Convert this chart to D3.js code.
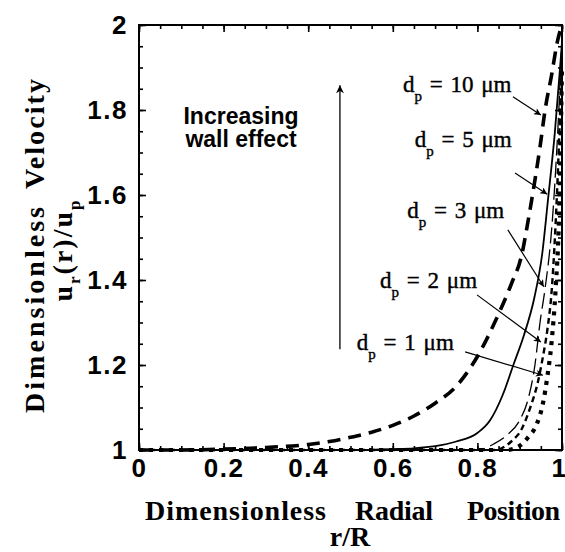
<!DOCTYPE html>
<html>
<head>
<meta charset="utf-8">
<script src="https://cdn.jsdelivr.net/npm/d3@7"></script>
<style>
  body { margin: 0; background: #fff; }
  svg { display: block; }
</style>
</head>
<body>
<div id="chart"></div>
<script>
// tick values / labels
const xTicks = [0, 0.2, 0.4, 0.6, 0.8, 1];
const yTicks = [1, 1.2, 1.4, 1.6, 1.8, 2];
const xTickLabels = ["0", "0.2", "0.4", "0.6", "0.8", "1"];
const yTickLabels = ["1", "1.2", "1.4", "1.6", "1.8", "2"];

// curves: r/R and u_r(r)/u_p
const r10 = [0, 0.1, 0.2, 0.3, 0.4, 0.45, 0.5, 0.55, 0.6, 0.65, 0.7, 0.75, 0.8, 0.85, 0.88, 0.905, 0.92, 0.936, 0.948, 0.96, 0.975, 0.99, 1];
const u10 = [1, 1, 1.002, 1.006, 1.013, 1.02, 1.03, 1.042, 1.058, 1.08, 1.11, 1.15, 1.22, 1.32, 1.39, 1.46, 1.54, 1.635, 1.713, 1.8, 1.88, 1.965, 2];

const r5 = [0, 0.5, 0.6, 0.65, 0.7, 0.75, 0.8, 0.83, 0.86, 0.885, 0.91, 0.935, 0.953, 0.967, 0.983, 0.995, 1];
const u5 = [1, 1, 1.002, 1.004, 1.009, 1.02, 1.04, 1.07, 1.13, 1.2, 1.27, 1.36, 1.46, 1.59, 1.746, 1.894, 1.96];

const r3 = [0, 0.8, 0.84, 0.87, 0.9, 0.92, 0.936, 0.948, 0.96, 0.976, 0.99, 1];
const u3 = [1, 1, 1.015, 1.035, 1.07, 1.12, 1.2, 1.3, 1.38, 1.525, 1.75, 1.97];

const r2 = [0, 0.84, 0.88, 0.905, 0.925, 0.943, 0.955, 0.965, 0.976, 0.988, 1];
const u2 = [1, 1, 1.02, 1.05, 1.1, 1.16, 1.22, 1.28, 1.38, 1.6, 1.93];

const r1 = [0, 0.87, 0.9, 0.92, 0.94, 0.955, 0.965, 0.975, 0.985, 0.993, 1];
const u1 = [1, 1, 1.01, 1.03, 1.06, 1.11, 1.17, 1.25, 1.38, 1.55, 1.9];

// annotations (data units)
const sizeLabels = ["10", "5", "3", "2", "1"];
const labelR = [0.624, 0.652, 0.634, 0.570, 0.515];
const labelU = [1.842, 1.713, 1.546, 1.381, 1.235];
const arrowFromR = [0.884, 0.889, 0.872, 0.799, 0.771];
const arrowFromU = [1.831, 1.652, 1.518, 1.365, 1.231];
const arrowToR = [0.950, 0.965, 0.957, 0.950, 0.955];
const arrowToU = [1.788, 1.602, 1.384, 1.254, 1.176];
const wallArrowR = 0.475;
const wallArrowU = [1.237, 1.858];

const W = 565, H = 552;
const margin = { top: 25, right: 3, bottom: 102, left: 139 };
const width = W - margin.left - margin.right,
      height = H - margin.top - margin.bottom;

const svg = d3.select("#chart").append("svg")
  .attr("width", W).attr("height", H);

const g = svg.append("g")
  .attr("transform", `translate(${margin.left},${margin.top})`);

const x = d3.scaleLinear().domain([0, 1]).range([0, width]);
const y = d3.scaleLinear().domain([1, 2]).range([height, 0]);

const minorX = d3.range(0, 1.0001, 0.05);
const minorY = d3.range(1, 2.0001, 0.05);

const tickFont = "'Liberation Sans', Arial, Helvetica, sans-serif";
const serif = "'Liberation Serif', 'Times New Roman', Times, serif";

function styleAxis(sel) {
  sel.select(".domain").remove();
  sel.selectAll(".tick line").attr("stroke", "#000").attr("stroke-width", 1.6);
}

// minor ticks, all four sides, pointing in
g.append("g").attr("transform", `translate(0,${height})`)
  .call(d3.axisBottom(x).tickValues(minorX).tickSize(-4).tickFormat("")).call(styleAxis);
g.append("g")
  .call(d3.axisTop(x).tickValues(minorX).tickSize(-4).tickFormat("")).call(styleAxis);
g.append("g")
  .call(d3.axisLeft(y).tickValues(minorY).tickSize(-4).tickFormat("")).call(styleAxis);
g.append("g").attr("transform", `translate(${width},0)`)
  .call(d3.axisRight(y).tickValues(minorY).tickSize(-4).tickFormat("")).call(styleAxis);

// major ticks with labels
const xAxis = g.append("g").attr("transform", `translate(0,${height})`)
  .call(d3.axisBottom(x).tickValues(xTicks).tickSize(-7).tickPadding(9)
    .tickFormat((d, i) => xTickLabels[i]))
  .call(styleAxis);
const yAxis = g.append("g")
  .call(d3.axisLeft(y).tickValues(yTicks).tickSize(-7).tickPadding(11)
    .tickFormat((d, i) => yTickLabels[i]))
  .call(styleAxis);
g.append("g")
  .call(d3.axisTop(x).tickValues(xTicks).tickSize(-7).tickFormat("")).call(styleAxis);
g.append("g").attr("transform", `translate(${width},0)`)
  .call(d3.axisRight(y).tickValues(yTicks).tickSize(-7).tickFormat("")).call(styleAxis);

[xAxis, yAxis].forEach(a => a.selectAll("text")
  .attr("fill", "#000")
  .style("font-family", tickFont)
  .style("font-weight", "bold")
  .style("font-size", "26px")
  .style("letter-spacing", "1.5px"));
// last x label sits on the page edge
xAxis.selectAll(".tick text").filter(d => d === 1).attr("dx", -3);

// curves
const curveR = [r10, r5, r3, r2, r1];
const curveU = [u10, u5, u3, u2, u1];
const curveStyle = [
  { w: 3.6, dash: "13,8" },
  { w: 1.8, dash: null },
  { w: 1.3, dash: "16,6" },
  { w: 2.4, dash: "6,4" },
  { w: 4.2, dash: "4,6" }
];

const line = d3.line()
  .x(d => x(d[0]))
  .y(d => y(d[1]))
  .curve(d3.curveMonotoneX);

curveR.forEach((rs, k) => {
  const pts = rs.map((r, i) => [r, curveU[k][i]]);
  g.append("path")
    .datum(pts)
    .attr("d", line)
    .attr("fill", "none")
    .attr("stroke", "#000")
    .attr("stroke-width", curveStyle[k].w)
    .attr("stroke-dasharray", curveStyle[k].dash);
});

// frame
g.append("rect")
  .attr("width", width).attr("height", height)
  .attr("fill", "none").attr("stroke", "#000").attr("stroke-width", 2);

// arrow heads
const defs = svg.append("defs");
defs.append("marker")
  .attr("id", "head").attr("viewBox", "0 0 10 10")
  .attr("refX", 10).attr("refY", 5)
  .attr("markerWidth", 11).attr("markerHeight", 7)
  .attr("markerUnits", "userSpaceOnUse")
  .attr("orient", "auto")
  .append("path").attr("d", "M0,0 L10,5 L0,10 L2.5,5 Z").attr("fill", "#000");
defs.append("marker")
  .attr("id", "bighead").attr("viewBox", "0 0 10 10")
  .attr("refX", 10).attr("refY", 5)
  .attr("markerWidth", 13).attr("markerHeight", 8)
  .attr("markerUnits", "userSpaceOnUse")
  .attr("orient", "auto")
  .append("path").attr("d", "M0,0 L10,5 L0,10 L3,5 Z").attr("fill", "#000");

// particle size labels + arrows
sizeLabels.forEach((s, i) => {
  const t = g.append("text")
    .attr("x", x(labelR[i]))
    .attr("y", y(labelU[i]))
    .style("font-family", serif)
    .style("font-size", "23px")
    .style("word-spacing", "2px")
    .attr("fill", "#000")
    .attr("stroke", "#000")
    .attr("stroke-width", 0.4);
  t.append("tspan").text("d");
  t.append("tspan").attr("dy", 9).style("font-size", "15px").text("p");
  t.append("tspan").attr("dy", -9).text(` = ${s} \u03bcm`);

  g.append("line")
    .attr("x1", x(arrowFromR[i])).attr("y1", y(arrowFromU[i]))
    .attr("x2", x(arrowToR[i])).attr("y2", y(arrowToU[i]))
    .attr("stroke", "#000").attr("stroke-width", 1.2)
    .attr("marker-end", "url(#head)");
});

// increasing wall effect
g.append("line")
  .attr("x1", x(wallArrowR)).attr("y1", y(wallArrowU[0]))
  .attr("x2", x(wallArrowR)).attr("y2", y(wallArrowU[1]))
  .attr("stroke", "#000").attr("stroke-width", 1.3)
  .attr("marker-end", "url(#bighead)");

const inc = g.append("text")
  .attr("text-anchor", "middle")
  .style("font-family", tickFont)
  .style("font-weight", "bold")
  .style("font-size", "23px")
  .attr("fill", "#000");
inc.append("tspan").attr("x", 102).attr("y", 99).text("Increasing");
inc.append("tspan").attr("x", 102).attr("y", 122).text("wall effect");

// axis titles, one text per word so the wide word gaps match
function titleWord(parent, str, x0, len, yb) {
  parent.append("text")
    .attr("x", x0).attr("y", yb)
    .attr("textLength", len)
    .attr("lengthAdjust", "spacing")
    .style("font-family", serif)
    .style("font-weight", "bold")
    .style("font-size", "28px")
    .attr("fill", "#000")
    .text(str);
}
titleWord(svg, "Dimensionless", 145, 181, 520);
titleWord(svg, "Radial", 355, 78, 520);
titleWord(svg, "Position", 467, 93, 520);
svg.append("text")
  .attr("x", 350).attr("y", 546)
  .attr("text-anchor", "middle")
  .style("font-family", serif)
  .style("font-weight", "bold")
  .style("font-size", "28px")
  .text("r/R");

const yTitle = svg.append("g").attr("transform", "translate(44,0) rotate(-90)");
titleWord(yTitle, "Dimensionless", -413, 206, 0);
titleWord(yTitle, "Velocity", -189, 110, 0);

const yt = svg.append("text")
  .attr("transform", "translate(72,250) rotate(-90)")
  .attr("text-anchor", "middle")
  .style("font-family", serif)
  .style("font-weight", "bold")
  .style("font-size", "28px")
  .style("letter-spacing", "2px");
yt.append("tspan").text("u");
yt.append("tspan").attr("dy", 8).style("font-size", "17px").text("r");
yt.append("tspan").attr("dy", -8).text("(r)/u");
yt.append("tspan").attr("dy", 8).style("font-size", "17px").text("p");
</script>
</body>
</html>
